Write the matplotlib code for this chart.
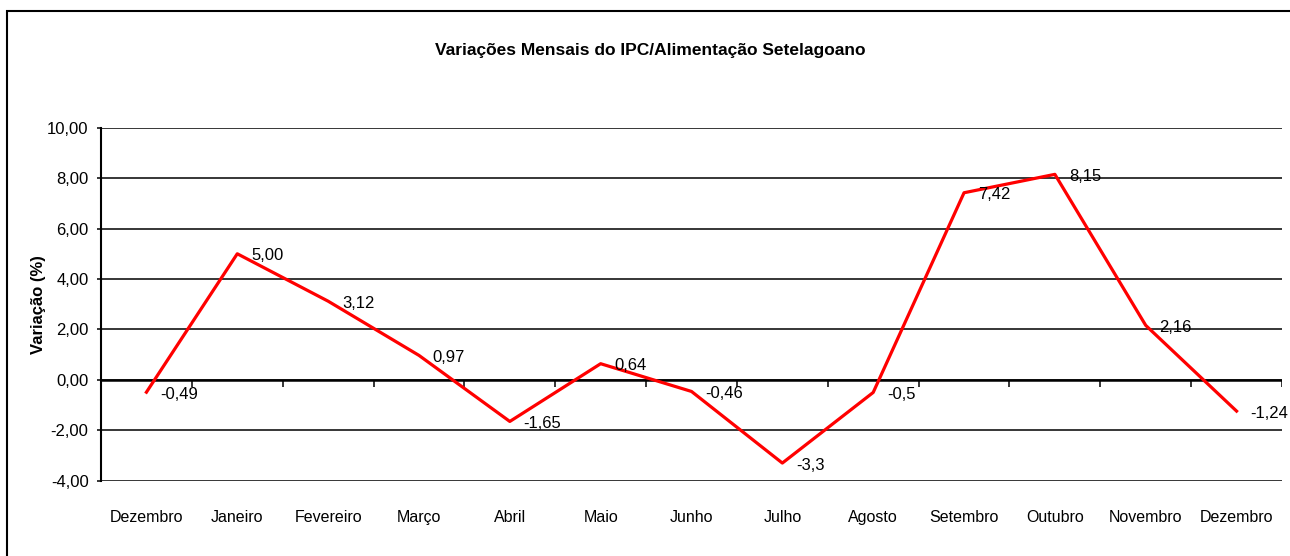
import matplotlib
matplotlib.use('Agg')
import matplotlib.pyplot as plt
import numpy as np
from matplotlib.patches import Rectangle

plt.rcParams['font.family'] = ['Liberation Sans Narrow', 'Liberation Sans', 'DejaVu Sans']

months = ['Dezembro', 'Janeiro', 'Fevereiro', 'Março', 'Abril', 'Maio', 'Junho',
          'Julho', 'Agosto', 'Setembro', 'Outubro', 'Novembro', 'Dezembro']
values = [-0.49, 5.00, 3.12, 0.97, -1.65, 0.64, -0.46, -3.3, -0.5, 7.42, 8.15, 2.16, -1.24]
value_labels = ['-0,49', '5,00', '3,12', '0,97', '-1,65', '0,64', '-0,46', '-3,3', '-0,5',
                '7,42', '8,15', '2,16', '-1,24']
y_ticks = [-4, -2, 0, 2, 4, 6, 8, 10]
y_tick_labels = ['-4,00', '-2,00', '0,00', '2,00', '4,00', '6,00', '8,00', '10,00']

fig = plt.figure(figsize=(12.9, 5.56), dpi=100)
# outer chart border (runs off the right and bottom edges)
fig.patches.append(Rectangle((7 / 1290, -0.05), 1.1, 1 - 10.7 / 556 + 0.05,
                             transform=fig.transFigure, fill=False,
                             edgecolor='black', linewidth=1.5))

ax = fig.add_axes([101 / 1290, 1 - 480.7 / 556, (1282 - 101) / 1290, (480.7 - 127.7) / 556])
x = np.arange(len(months))

for yt in y_ticks:
    ax.axhline(yt, color='black', linewidth=1.1, zorder=1)
ax.axhline(0, color='black', linewidth=1.8, zorder=1)
# tick marks on the zero line between categories
ax.vlines(np.arange(0.5, len(months)), -0.27, 0, color='black', linewidth=1.1, zorder=1)

ax.plot(x, values, color='#ff0000', linewidth=2.3, zorder=3)

for xi, v, lab in zip(x, values, value_labels):
    ax.annotate(lab, (xi, v), xytext=(10, -1.5), textcoords='offset points',
                ha='left', va='center', fontsize=12, zorder=4)

ax.set_xlim(-0.5, len(months) - 0.5)
ax.set_ylim(-4, 10)
ax.set_yticks(y_ticks)
ax.set_yticklabels(y_tick_labels)
ax.set_xticks(x)
ax.set_xticklabels(months)
ax.tick_params(axis='x', length=0, pad=21, labelsize=11.5)
ax.tick_params(axis='y', length=3, width=1.1, pad=6, labelsize=12, direction='out')

for s in ['top', 'right', 'bottom']:
    ax.spines[s].set_visible(False)
ax.spines['left'].set_linewidth(1.5)

ax.set_ylabel('Variação (%)', fontsize=12, fontweight='bold')
ax.yaxis.set_label_coords(-(101 - 46) / 1181, 0.5)
fig.text(650 / 1290, 1 - 51 / 556, 'Variações Mensais do IPC/Alimentação Setelagoano',
         ha='center', va='center', fontsize=12.5, fontweight='bold')

fig.savefig('out.png', dpi=100)
